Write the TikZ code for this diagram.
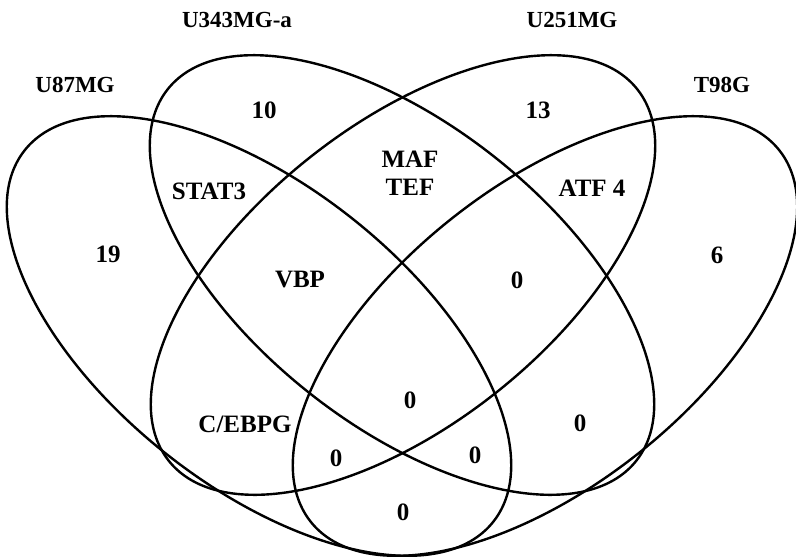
\documentclass[tikz,border=0pt]{standalone}
\usepackage{fontspec}
\setmainfont{Liberation Serif}
\begin{document}
\begin{tikzpicture}[x=1pt,y=-1pt,
  set/.style={line width=2.4pt},
  setname/.style={font=\fontsize{23}{27}\selectfont\bfseries},
  count/.style={font=\fontsize{25}{28}\selectfont\bfseries, align=center}]
  \useasboundingbox (0,0) rectangle (796,557);
  % the four sets
  \draw[set, rotate around={-38.4:(259,336)}] (259,336) ellipse [x radius=299pt, y radius=150pt];
  \draw[set, rotate around={-38.4:(402,275)}] (402,275) ellipse [x radius=299pt, y radius=150pt];
  \draw[set, rotate around={38.4:(403,275)}] (403,275) ellipse [x radius=299pt, y radius=150pt];
  \draw[set, rotate around={38.4:(545,336)}] (545,336) ellipse [x radius=299pt, y radius=150pt];
  % set names
  \node[setname] (u87) at (75,85) {U87MG};
  \node[setname] (u343) at (237,20) {U343MG-a};
  \node[setname] (u251) at (572,20) {U251MG};
  \node[setname] (t98) at (722,85) {T98G};
  % regions
  \node[count] (a) at (108,254) {19};
  \node[count] (b) at (264,110) {10};
  \node[count] (c) at (538,110) {13};
  \node[count] (d) at (717,255) {6};
  \node[count] (ab) at (209,191) {STAT3};
  \node[count] (bc) at (410,173) {MAF\\TEF};
  \node[count] (cd) at (592,188) {ATF 4};
  \node[count] (abc) at (300,280) {VBP};
  \node[count] (bcd) at (517,280) {0};
  \node[count] (abcd) at (410,400) {0};
  \node[count] (ac) at (245,424) {C/EBPG};
  \node[count] (bd) at (580,423) {0};
  \node[count] (acd) at (336,458) {0};
  \node[count] (abd) at (475,455) {0};
  \node[count] (ad) at (403,512) {0};
\end{tikzpicture}
\end{document}
